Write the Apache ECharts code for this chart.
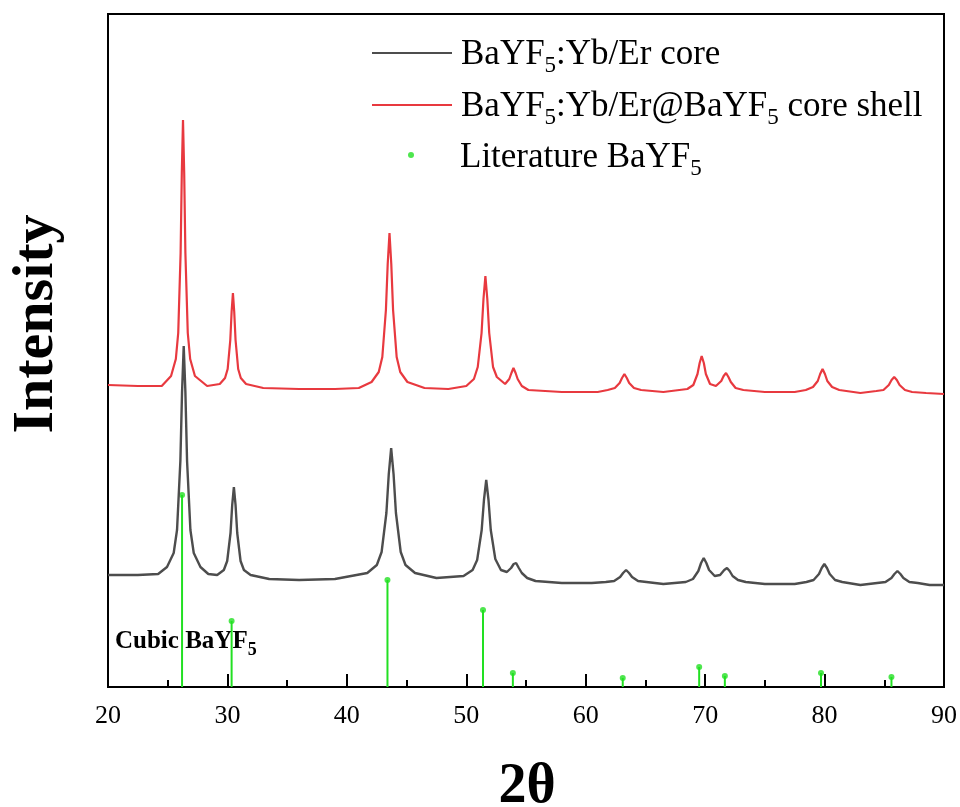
<!DOCTYPE html>
<html>
<head>
<meta charset="utf-8">
<script src="https://cdn.jsdelivr.net/npm/echarts@6/dist/echarts.min.js"></script>
<style>
html,body{margin:0;padding:0;background:#fff;}
#chart{width:960px;height:807px;}
</style>
</head>
<body>
<div id="chart"></div>
<script>
// ---- data ----
var xTickValues = [20, 30, 40, 50, 60, 70, 80, 90];

var coreTheta = [20, 22.5, 24.2, 24.94, 25.5, 25.78, 26.06, 26.2, 26.34, 26.48, 26.62, 26.9, 27.18, 27.74, 28.4,
  29.14, 29.7, 29.98, 30.26, 30.4, 30.54, 30.68, 30.82, 31.1, 31.38, 31.94, 33.5, 36, 39,
  41.71, 42.51, 42.91, 43.31, 43.51, 43.71, 43.91, 44.11, 44.51, 44.91, 45.71, 47.5,
  49.77, 50.53, 50.91, 51.29, 51.48, 51.67, 51.86, 52.05, 52.43, 52.9, 53.4, 53.75, 53.97, 54.17, 54.4, 54.65, 55.1, 55.8,
  58, 60.5, 61.68, 62.38, 62.88, 63.13, 63.38, 63.63, 63.88, 64.38, 65.08, 66.5,
  68.38, 68.98, 69.43, 69.66, 69.88, 70.1, 70.33, 70.8, 71.25, 71.6, 71.83, 72.05, 72.3, 72.75, 73.4,
  75, 77.5, 78.48, 79.08, 79.53, 79.76, 79.98, 80.2, 80.43, 80.88, 81.48, 83,
  84.4, 85.1, 85.6, 85.85, 86.1, 86.35, 86.6, 87.1, 87.8, 88.8, 90];
var coreIntensity = [112, 112, 113, 120, 134, 157, 226, 295, 341, 295, 226, 157, 134, 120, 113,
  112, 117, 126, 154, 182, 200, 182, 154, 126, 117, 112, 108, 107, 108,
  114, 122, 135, 174, 213, 239, 213, 174, 135, 122, 114, 109,
  111, 117, 127, 157, 187, 207, 187, 157, 128, 117, 115, 119, 123, 124, 119, 114, 109, 106,
  104, 104, 105, 106, 110, 114, 117, 114, 110, 106, 105, 103,
  105, 108, 116, 124, 129, 124, 117, 111, 112, 117, 119, 116, 111, 107, 105,
  103, 103, 105, 107, 113, 119, 123, 119, 113, 107, 105, 102,
  104, 105, 109, 113, 116, 113, 109, 105, 104, 102, 102];

var shellTheta = [20, 22.5, 24.5, 25.28, 25.68, 25.88, 26.08, 26.18, 26.28, 26.38, 26.48, 26.68, 26.88, 27.28, 28.3,
  29.36, 29.8, 30.02, 30.24, 30.35, 30.46, 30.57, 30.68, 30.9, 31.12, 31.56, 33, 36, 39, 41,
  42.07, 42.67, 42.97, 43.27, 43.42, 43.57, 43.72, 43.87, 44.17, 44.47, 45.07, 46.5, 48.5,
  50, 50.64, 50.96, 51.28, 51.44, 51.6, 51.76, 51.92, 52.24, 52.56, 53.25, 53.6, 53.78, 53.95, 54.13, 54.3, 54.65, 55.2,
  58, 61, 61.84, 62.44, 62.84, 63.04, 63.24, 63.44, 63.64, 64.04, 64.64, 66.5,
  68.51, 69.01, 69.36, 69.54, 69.71, 69.89, 70.06, 70.41, 70.9, 71.35, 71.55, 71.75, 71.95, 72.15, 72.55, 73.2,
  75, 77.5, 78.43, 79.03, 79.43, 79.63, 79.83, 80.03, 80.23, 80.63, 81.23, 83,
  84.33, 84.93, 85.38, 85.61, 85.83, 86.05, 86.28, 86.73, 87.33, 88.5, 90];
var shellIntensity = [302, 301, 301, 311, 328, 354, 434, 514, 567, 514, 434, 354, 328, 311, 301,
  303, 309, 318, 347, 375, 394, 375, 347, 318, 309, 303, 299, 298, 298, 299,
  305, 315, 330, 377, 423, 454, 423, 377, 330, 315, 305, 299, 298,
  301, 308, 320, 354, 388, 411, 388, 354, 320, 310, 303, 308, 314, 319, 314, 308, 301, 297,
  295, 295, 297, 299, 304, 309, 313, 309, 304, 299, 297, 295,
  298, 302, 313, 324, 331, 324, 313, 303, 301, 306, 311, 314, 310, 305, 299, 297,
  295, 295, 297, 300, 306, 313, 318, 313, 306, 300, 297, 294,
  296, 297, 302, 307, 310, 307, 302, 297, 295, 294, 293];

var litTheta = [26.2, 30.35, 43.4, 51.4, 53.9, 63.1, 69.5, 71.65, 79.7, 85.6];
var litIntensity = [192, 66, 107, 77, 14, 9, 20, 11, 14, 10];

var coreName = 'BaYF5:Yb/Er core';
var shellName = 'BaYF5:Yb/Er@BaYF5 core shell';
var litName = 'Literature BaYF5';

// ---- build ----
function pairs(xs, ys) { return xs.map(function (x, i) { return [x, ys[i]]; }); }

var serif = "'Liberation Serif', 'Times New Roman', serif";
var grayColor = '#4d4d4d';
var redColor = '#e8393f';
var greenColor = '#22e022';

function subFmt(name) { return name.replace(/F5/g, 'F{s|5}'); }

function legendFor(name, left, top, itemW, itemH, padTop, padLeft, isLine) {
  var lg = {
    data: [name],
    left: left,
    top: top,
    padding: 0,
    orient: 'vertical',
    itemWidth: itemW,
    itemHeight: itemH,
    selectedMode: false,
    formatter: subFmt,
    textStyle: {
      fontFamily: serif, fontSize: 35, color: '#000', lineHeight: 40,
      padding: [padTop, 0, 0, padLeft],
      rich: {
        s: { fontFamily: serif, fontSize: 23, color: '#000', padding: [22, 0, 0, 0] }
      }
    }
  };
  if (isLine) {
    lg.itemStyle = { color: 'transparent', borderWidth: 0, opacity: 0 };
    lg.lineStyle = { width: 2 };
  }
  return lg;
}

var chart = echarts.init(document.getElementById('chart'), null, { renderer: 'canvas' });
chart.setOption({
  backgroundColor: '#fff',
  animation: false,
  grid: {
    left: 108, right: 15, top: 14, bottom: 120,
    show: true, borderColor: '#000', borderWidth: 2, backgroundColor: 'transparent'
  },
  legend: [
    legendFor(coreName, 371, 31, 80, 14, 4, 4, true),
    legendFor(shellName, 371, 83, 80, 14, 4, 4, true),
    legendFor(litName, 408, 132, 6, 6, 6, 41, false)
  ],
  xAxis: {
    type: 'value',
    min: xTickValues[0],
    max: xTickValues[xTickValues.length - 1],
    interval: 10,
    axisLine: { show: true, lineStyle: { color: '#000', width: 2 } },
    axisTick: { show: true, inside: true, length: 13, lineStyle: { color: '#000', width: 2 } },
    minorTick: { show: true, splitNumber: 2, length: 7, lineStyle: { color: '#000', width: 2 } },
    axisLabel: { fontFamily: serif, fontSize: 26, color: '#000', margin: 16 },
    splitLine: { show: false }
  },
  yAxis: {
    type: 'value',
    min: 0,
    max: 673,
    axisLine: { show: true, lineStyle: { color: '#000', width: 2 } },
    axisTick: { show: false },
    axisLabel: { show: false },
    splitLine: { show: false }
  },
  series: [
    {
      name: shellName, type: 'line', showSymbol: false, symbol: 'none',
      data: pairs(shellTheta, shellIntensity),
      lineStyle: { color: redColor, width: 2.2 }, itemStyle: { color: redColor }
    },
    {
      name: coreName, type: 'line', showSymbol: false, symbol: 'none',
      data: pairs(coreTheta, coreIntensity),
      lineStyle: { color: grayColor, width: 2.4 }, itemStyle: { color: grayColor }
    },
    {
      name: litName + ' sticks', type: 'bar', barWidth: 2,
      data: pairs(litTheta, litIntensity),
      itemStyle: { color: greenColor }
    },
    {
      name: litName, type: 'scatter', symbol: 'circle', symbolSize: 6,
      data: pairs(litTheta, litIntensity),
      itemStyle: { color: greenColor }
    }
  ],
  graphic: [
    {
      type: 'text', x: 37, y: 324, rotation: Math.PI / 2,
      style: { text: 'Intensity', fontFamily: serif, fontSize: 58, fontWeight: 'bold', fill: '#000', align: 'center', verticalAlign: 'middle' }
    },
    {
      type: 'text', x: 527, y: 788,
      style: { text: '2θ', fontFamily: serif, fontSize: 56, fontWeight: 'bold', fill: '#000', align: 'center', verticalAlign: 'middle' }
    },
    {
      type: 'text', x: 115, y: 642,
      style: {
        text: 'Cubic BaYF{s|5}', fontFamily: serif, fontSize: 25, fontWeight: 'bold', fill: '#000',
        align: 'left', verticalAlign: 'middle',
        rich: { s: { fontFamily: serif, fontSize: 18, fontWeight: 'bold', fill: '#000', padding: [16, 0, 0, 0] } }
      }
    }
  ]
});
</script>
</body>
</html>
